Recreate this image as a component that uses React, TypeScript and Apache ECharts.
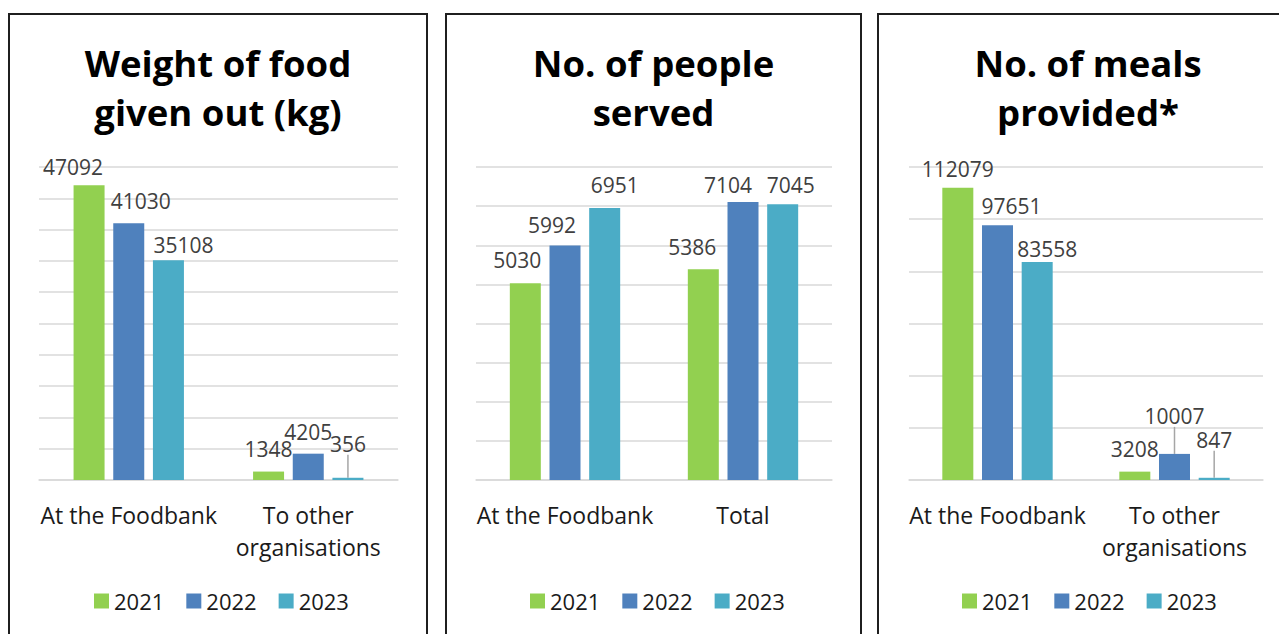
import React, { useEffect, useRef } from 'react';
import * as echarts from 'echarts';

const YEARS = ['2021', '2022', '2023'];
const YEAR_COLORS = ['#92d050', '#4f81bd', '#4bacc6'];

const FOOD_CATEGORIES = ['At the Foodbank', 'To other\norganisations'];
const FOOD_2021 = [47092, 1348];
const FOOD_2022 = [41030, 4205];
const FOOD_2023 = [35108, 356];

const PEOPLE_CATEGORIES = ['At the Foodbank', 'Total'];
const PEOPLE_2021 = [5030, 5386];
const PEOPLE_2022 = [5992, 7104];
const PEOPLE_2023 = [6951, 7045];

const MEALS_CATEGORIES = ['At the Foodbank', 'To other\norganisations'];
const MEALS_2021 = [112079, 3208];
const MEALS_2022 = [97651, 10007];
const MEALS_2023 = [83558, 847];

const TITLES = ['Weight of food\ngiven out (kg)', 'No. of people\nserved', 'No. of meals\nprovided*'];
const AXIS_MAX = [50000, 8000, 120000];
const AXIS_INTERVAL = [5000, 1000, 20000];

const PANELS = [
  { categories: FOOD_CATEGORIES, series: [FOOD_2021, FOOD_2022, FOOD_2023] },
  { categories: PEOPLE_CATEGORIES, series: [PEOPLE_2021, PEOPLE_2022, PEOPLE_2023] },
  { categories: MEALS_CATEGORIES, series: [MEALS_2021, MEALS_2022, MEALS_2023] },
];

// layout: panel frames, grids, legends, label nudges
const FRAMES = [
  { x: 9, w: 418 },
  { x: 446, w: 415 },
  { x: 878, w: 420 },
];
const GRIDS = [
  { left: 39, width: 359 },
  { left: 476, width: 356 },
  { left: 909, width: 354 },
];
const LEGEND_LEFT = [94, 530, 962];
// [panel][series][category] = [dx, dy]
const LABEL_SHIFT = [
  [[[-16, 2], [0, -2]], [[12, -2], [0, -1]], [[15, 5], [0, -13]]],
  [[[-8, -3], [-11, -2]], [[-13, 0], [-15, 3]], [[10, -3], [8, 1]]],
  [[[0, 2], [0, -2]], [[14, 1], [0, -17]], [[10, 7], [0, -17]]],
];

const FONT = "'Open Sans', 'Noto Sans', sans-serif";

export default function App() {
  const ref = useRef<HTMLDivElement>(null);
  useEffect(() => {
    if (!ref.current) return;
    const chart = echarts.init(ref.current, undefined, { renderer: 'svg' });

    const series: any[] = [];
    const seriesMap: { p: number; s: number }[] = [];
    PANELS.forEach((panel, p) => {
      panel.series.forEach((values, s) => {
        seriesMap.push({ p, s });
        series.push({
          type: 'bar',
          name: YEARS[s],
          xAxisIndex: p,
          yAxisIndex: p,
          barWidth: 31,
          barGap: '28%',
          itemStyle: { color: YEAR_COLORS[s] },
          label: {
            show: true,
            position: 'top',
            distance: 10,
            fontSize: 21,
            color: '#404040',
            fontFamily: FONT,
          },
          data: values.map((v, i) => {
            const leader = LABEL_SHIFT[p][s][i][1] <= -10;
            return leader
              ? { value: v, labelLine: { show: true, length2: 0, lineStyle: { color: '#a6a6a6', width: 1.5 } } }
              : { value: v };
          }),
        });
      });
    });

    chart.setOption({
      animation: false,
      backgroundColor: '#ffffff',
      textStyle: { fontFamily: FONT },
      title: TITLES.map((t, p) => ({
        text: t,
        left: FRAMES[p].x + FRAMES[p].w / 2,
        top: 38,
        textAlign: 'center',
        padding: 0,
        textStyle: { fontSize: 36.5, fontWeight: 'bold', lineHeight: 49, color: '#000000', fontFamily: FONT },
      })),
      legend: LEGEND_LEFT.map((l) => ({
        data: YEARS,
        left: l,
        top: 590,
        padding: 0,
        icon: 'rect',
        itemWidth: 15,
        itemHeight: 15,
        itemGap: 22,
        selectedMode: false,
        textStyle: { fontSize: 22, color: '#1a1a1a', fontFamily: FONT },
      })),
      grid: GRIDS.map((g) => ({ left: g.left, width: g.width, top: 167, height: 313 })),
      xAxis: PANELS.map((panel, p) => ({
        type: 'category',
        gridIndex: p,
        data: panel.categories,
        axisTick: { show: false },
        axisLine: { lineStyle: { color: '#d9d9d9', width: 1.5 } },
        axisLabel: { interval: 0, fontSize: 23, color: '#1a1a1a', lineHeight: 32, margin: 19, fontFamily: FONT },
      })),
      yAxis: PANELS.map((_, p) => ({
        type: 'value',
        gridIndex: p,
        min: 0,
        max: AXIS_MAX[p],
        interval: AXIS_INTERVAL[p],
        axisLabel: { show: false },
        axisLine: { show: false },
        axisTick: { show: false },
        splitLine: { lineStyle: { color: '#d9d9d9', width: 1.5 } },
      })),
      labelLayout: (params: any) => {
        const m = seriesMap[params.seriesIndex];
        if (!m) return {};
        const sh = LABEL_SHIFT[m.p][m.s][params.dataIndex];
        return { dx: sh[0], dy: sh[1] };
      },
      graphic: FRAMES.map((f) => ({
        type: 'rect',
        shape: { x: f.x, y: 14, width: f.w, height: 700 },
        style: { fill: 'none', stroke: '#1f1f1f', lineWidth: 2 },
        silent: true,
      })),
      series,
    });
    return () => chart.dispose();
  }, []);
  return <div ref={ref} style={{ position: 'absolute', left: 0, top: 0, width: 1279, height: 634 }} />;
}
